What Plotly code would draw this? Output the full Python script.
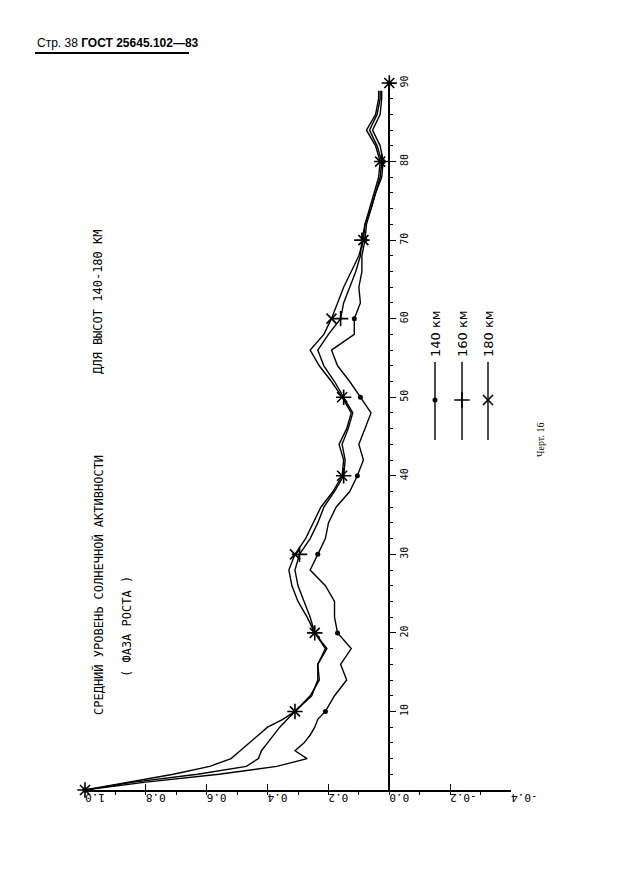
import plotly.graph_objects as go

# ---------------- data ----------------
lags = [0, 1, 2, 3, 4, 5, 6, 7, 8, 9, 10, 12, 14, 16, 18, 20, 22, 24, 26, 28, 30,
        32, 34, 36, 38, 40, 42, 44, 46, 48, 50, 52, 54, 56, 58, 60, 62, 64, 66, 68,
        70, 72, 74, 76, 78, 80, 82, 84, 86, 88, 89]

r140 = [1.0, 0.80, 0.56, 0.37, 0.27, 0.31, 0.28, 0.26, 0.245, 0.235, 0.21, 0.18, 0.14,
        0.16, 0.125, 0.17, 0.18, 0.18, 0.21, 0.26, 0.235, 0.21, 0.20, 0.175, 0.13,
        0.105, 0.085, 0.10, 0.08, 0.06, 0.095, 0.13, 0.17, 0.19, 0.115, 0.115, 0.095,
        0.10, 0.09, 0.09, 0.08, 0.075, 0.06, 0.045, 0.025, 0.02, 0.03, 0.055, 0.03,
        0.025, 0.025]

r160 = [1.0, 0.84, 0.63, 0.47, 0.43, 0.42, 0.40, 0.38, 0.36, 0.335, 0.31, 0.255, 0.235,
        0.235, 0.205, 0.245, 0.26, 0.28, 0.30, 0.31, 0.295, 0.26, 0.235, 0.215, 0.18,
        0.15, 0.145, 0.155, 0.135, 0.12, 0.15, 0.18, 0.215, 0.235, 0.20, 0.16, 0.15,
        0.13, 0.11, 0.095, 0.09, 0.08, 0.06, 0.045, 0.03, 0.025, 0.04, 0.065, 0.04,
        0.03, 0.03]

r180 = [1.0, 0.86, 0.71, 0.59, 0.52, 0.49, 0.46, 0.43, 0.40, 0.35, 0.31, 0.26, 0.23,
        0.235, 0.21, 0.245, 0.27, 0.30, 0.32, 0.33, 0.31, 0.275, 0.25, 0.225, 0.185,
        0.155, 0.15, 0.165, 0.14, 0.125, 0.155, 0.19, 0.23, 0.26, 0.215, 0.19, 0.17,
        0.15, 0.125, 0.10, 0.085, 0.08, 0.065, 0.05, 0.035, 0.03, 0.045, 0.075, 0.045,
        0.035, 0.035]

marker_lags = [0, 10, 20, 30, 40, 50, 60, 70, 80, 90]
m140 = [1.0, 0.21, 0.17, 0.235, 0.105, 0.095, 0.115, 0.08, 0.02, 0.0]
m160 = [1.0, 0.31, 0.245, 0.295, 0.15, 0.15, 0.16, 0.09, 0.025, 0.0]
m180 = [1.0, 0.31, 0.245, 0.31, 0.155, 0.155, 0.19, 0.085, 0.03, 0.0]

series_names = ["140 км", "160 км", "180 км"]
value_tickvals = [1.0, 0.8, 0.6, 0.4, 0.2, 0.0, -0.2, -0.4]
value_ticktext = ["1.0", "0.8", "0.6", "0.4", "0.2", "0.0", "-0.2", "-0.4"]
lag_tickvals = [10, 20, 30, 40, 50, 60, 70, 80, 90]

# ---------------- layout helpers ----------------
# page has an 8px body margin, so the figure is shrunk and shifted accordingly
OFF = 8
W, H = 636 - 2 * OFF, 884 - 2 * OFF
PX_LEFT, PX_RIGHT, PX_TOP, PX_BOTTOM = 85, 511, 83, 790   # plot area in page pixels
L = PX_LEFT - OFF
T = PX_TOP - OFF
R = W - (PX_RIGHT - OFF)
B = H - (PX_BOTTOM - OFF)
PW, PH = W - L - R, H - T - B


def pxx(x):
    return (x - PX_LEFT) / PW


def pxy(y):
    return (PX_BOTTOM - y) / PH


XMAX, XMIN = 1.0, -0.4

symbols = [dict(symbol="circle", size=5, color="black"),
           dict(symbol="cross-thin", size=11, color="black", line=dict(width=1.6, color="black")),
           dict(symbol="x-thin", size=10, color="black", line=dict(width=1.6, color="black"))]

fig = go.Figure()
for name, vals, mv, sym in zip(series_names, [r140, r160, r180], [m140, m160, m180], symbols):
    fig.add_trace(go.Scatter(x=vals, y=lags, mode="lines", name=name,
                             line=dict(color="black", width=1.4), cliponaxis=False,
                             showlegend=False))
    fig.add_trace(go.Scatter(x=mv, y=marker_lags, mode="markers", name=name,
                             marker=sym, cliponaxis=False, showlegend=False))

# legend samples drawn on a pixel overlay axis
legend_x = [435, 462, 488]
legend_y_marker = 400
for lx, sym in zip(legend_x, symbols):
    fig.add_trace(go.Scatter(x=[lx, lx], y=[440, 362], mode="lines", xaxis="x2", yaxis="y2",
                             line=dict(color="black", width=1.4), showlegend=False,
                             cliponaxis=False))
    fig.add_trace(go.Scatter(x=[lx], y=[legend_y_marker], mode="markers", xaxis="x2", yaxis="y2",
                             marker=sym, showlegend=False, cliponaxis=False))

font_axis = dict(family="DejaVu Sans Mono", size=11, color="black")

fig.update_layout(
    width=W, height=H,
    margin=dict(l=L, r=R, t=T, b=B),
    paper_bgcolor="white", plot_bgcolor="white",
    showlegend=False,
    xaxis=dict(range=[XMAX, XMIN], showgrid=False, zeroline=False,
               showline=True, linecolor="black", linewidth=1.5,
               tickmode="array", tickvals=value_tickvals, ticktext=value_ticktext,
               tickangle=180, ticks="inside", ticklen=6, tickwidth=1.3,
               tickcolor="black", tickfont=font_axis,
               minor=dict(dtick=0.1, tick0=0, ticks="outside", ticklen=3,
                          tickcolor="black", tickwidth=1)),
    yaxis=dict(range=[0, 90], showgrid=False, zeroline=False,
               anchor="free", position=(XMAX - 0.0) / (XMAX - XMIN), side="right",
               showline=True, linecolor="black", linewidth=1.5,
               tickmode="array", tickvals=lag_tickvals, tickangle=-90,
               ticks="outside", ticklen=6, tickwidth=1.3, tickcolor="black",
               tickfont=dict(family="DejaVu Sans Mono", size=10, color="black"),
               minor=dict(dtick=2, tick0=0, ticks="outside", ticklen=3,
                          tickcolor="black", tickwidth=1)),
    xaxis2=dict(range=[PX_LEFT, PX_RIGHT], overlaying="x", visible=False, domain=[0, 1]),
    yaxis2=dict(range=[PX_BOTTOM, PX_TOP], overlaying="y", visible=False, anchor="x2"),
)

annotations = [
    dict(text="Стр. 38 <b>ГОСТ 25645.102—83</b>", x=pxx(35), y=pxy(43),
         xanchor="left", yanchor="middle", showarrow=False,
         font=dict(family="Liberation Sans", size=12, color="black")),
    dict(text="СРЕДНИЙ УРОВЕНЬ СОЛНЕЧНОЙ АКТИВНОСТИ", x=pxx(98), y=pxy(585),
         textangle=-90, xanchor="center", yanchor="middle", showarrow=False,
         font=dict(family="DejaVu Sans Mono", size=12, color="black")),
    dict(text="ДЛЯ ВЫСОТ 140-180 КМ", x=pxx(98), y=pxy(302),
         textangle=-90, xanchor="center", yanchor="middle", showarrow=False,
         font=dict(family="DejaVu Sans Mono", size=12, color="black")),
    dict(text="( ФАЗА РОСТА )", x=pxx(127), y=pxy(627),
         textangle=-90, xanchor="center", yanchor="middle", showarrow=False,
         font=dict(family="DejaVu Sans Mono", size=12, color="black")),
    dict(text="Черт. 16", x=pxx(540), y=pxy(440),
         textangle=-90, xanchor="center", yanchor="middle", showarrow=False,
         font=dict(family="Liberation Serif", size=10, color="black")),
]
for lx, name in zip(legend_x, series_names):
    annotations.append(dict(text=name, x=pxx(lx), y=pxy(334), textangle=-90,
                            xanchor="center", yanchor="middle", showarrow=False,
                            font=dict(family="DejaVu Sans", size=13, color="black")))
for a in annotations:
    a["xref"] = "paper"
    a["yref"] = "paper"
fig.update_layout(annotations=annotations)

fig.add_shape(type="line", xref="paper", yref="paper",
              x0=pxx(35), x1=pxx(189), y0=pxy(53), y1=pxy(53),
              line=dict(color="black", width=2))

fig.write_html("out.html")
